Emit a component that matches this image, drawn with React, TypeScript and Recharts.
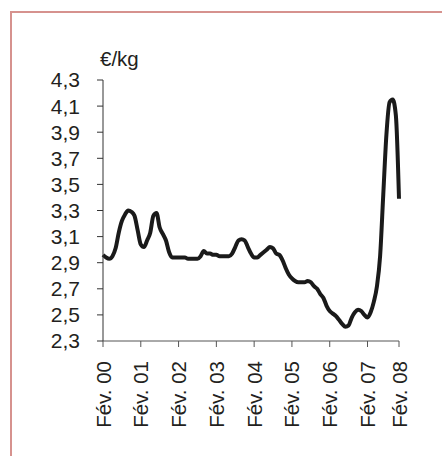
import { Line, LineChart, XAxis, YAxis } from "recharts";

// monthly price, starting Feb 2000 (month 0)
const prices = [
  2.96, 2.94, 2.93, 2.95, 3.01, 3.13, 3.22, 3.27, 3.3, 3.29, 3.26, 3.15,
  3.04, 3.02, 3.07, 3.13, 3.26, 3.28, 3.17, 3.12, 3.07, 2.98, 2.94, 2.94,
  2.94, 2.94, 2.94, 2.93, 2.93, 2.93, 2.93, 2.95, 2.99, 2.97, 2.97, 2.96,
  2.96, 2.95, 2.95, 2.95, 2.95, 2.97, 3.02, 3.07, 3.08, 3.07, 3.02, 2.97,
  2.94, 2.94, 2.96, 2.98, 3.0, 3.02, 3.01, 2.97, 2.96, 2.92, 2.86, 2.81,
  2.78, 2.76, 2.75, 2.75, 2.75, 2.76, 2.75, 2.72, 2.7, 2.66, 2.63, 2.57,
  2.53, 2.51, 2.49, 2.46, 2.43, 2.41, 2.42, 2.48, 2.52, 2.54, 2.53, 2.5,
  2.48, 2.52, 2.6, 2.72, 2.95, 3.42, 3.88, 4.13, 4.15, 4.03, 3.39,
];

const xTicks = [0, 12, 24, 36, 48, 60, 72, 84, 94];
const xLabels = ["Fév. 00", "Fév. 01", "Fév. 02", "Fév. 03", "Fév. 04", "Fév. 05", "Fév. 06", "Fév. 07", "Fév. 08"];
const yTicks = [2.3, 2.5, 2.7, 2.9, 3.1, 3.3, 3.5, 3.7, 3.9, 4.1, 4.3];

const data = prices.map((price, month) => ({ month, price }));

const font = "'Liberation Sans', Arial, sans-serif";

function XTick(props: any) {
  const { x, y, payload } = props;
  const i = xTicks.indexOf(payload.value);
  return (
    <text
      x={x}
      y={y}
      transform={`rotate(-90, ${x}, ${y})`}
      textAnchor="end"
      dominantBaseline="central"
      fontSize={20.5}
      fontFamily={font}
      fill="#231f20"
    >
      {xLabels[i]}
    </text>
  );
}

export default function App() {
  return (
    <div style={{ position: "fixed", left: 0, top: 0, width: 442, height: 456, overflow: "hidden", background: "#fff" }}>
      <div
        style={{
          position: "absolute",
          left: 10,
          top: 11,
          width: 480,
          height: 480,
          borderLeft: "2px solid #d6928e",
          borderTop: "2px solid #d6928e",
        }}
      />
      <div
        style={{
          position: "absolute",
          left: 100,
          top: 47,
          fontFamily: font,
          fontSize: 20.5,
          color: "#231f20",
        }}
      >
        €/kg
      </div>
      <div style={{ position: "absolute", left: 0, top: 0 }}>
        <LineChart width={442} height={456} data={data} margin={{ top: 80, right: 43, left: 43, bottom: 15 }}>
          <XAxis
            dataKey="month"
            type="number"
            domain={[0, 94]}
            ticks={xTicks}
            interval={0}
            height={100}
            tickSize={6}
            tickMargin={14}
            stroke="#555"
            tick={<XTick />}
          />
          <YAxis
            domain={[2.3, 4.3]}
            ticks={yTicks}
            interval={0}
            width={60}
            tickSize={6}
            tickMargin={17}
            stroke="#333"
            tickFormatter={(v: number) => v.toFixed(1).replace(".", ",")}
            tick={{ fontSize: 21, fontFamily: font, fill: "#231f20" }}
          />
          <Line
            type="monotone"
            dataKey="price"
            stroke="#1a1a1a"
            strokeWidth={4}
            dot={false}
            isAnimationActive={false}
          />
        </LineChart>
      </div>
    </div>
  );
}
